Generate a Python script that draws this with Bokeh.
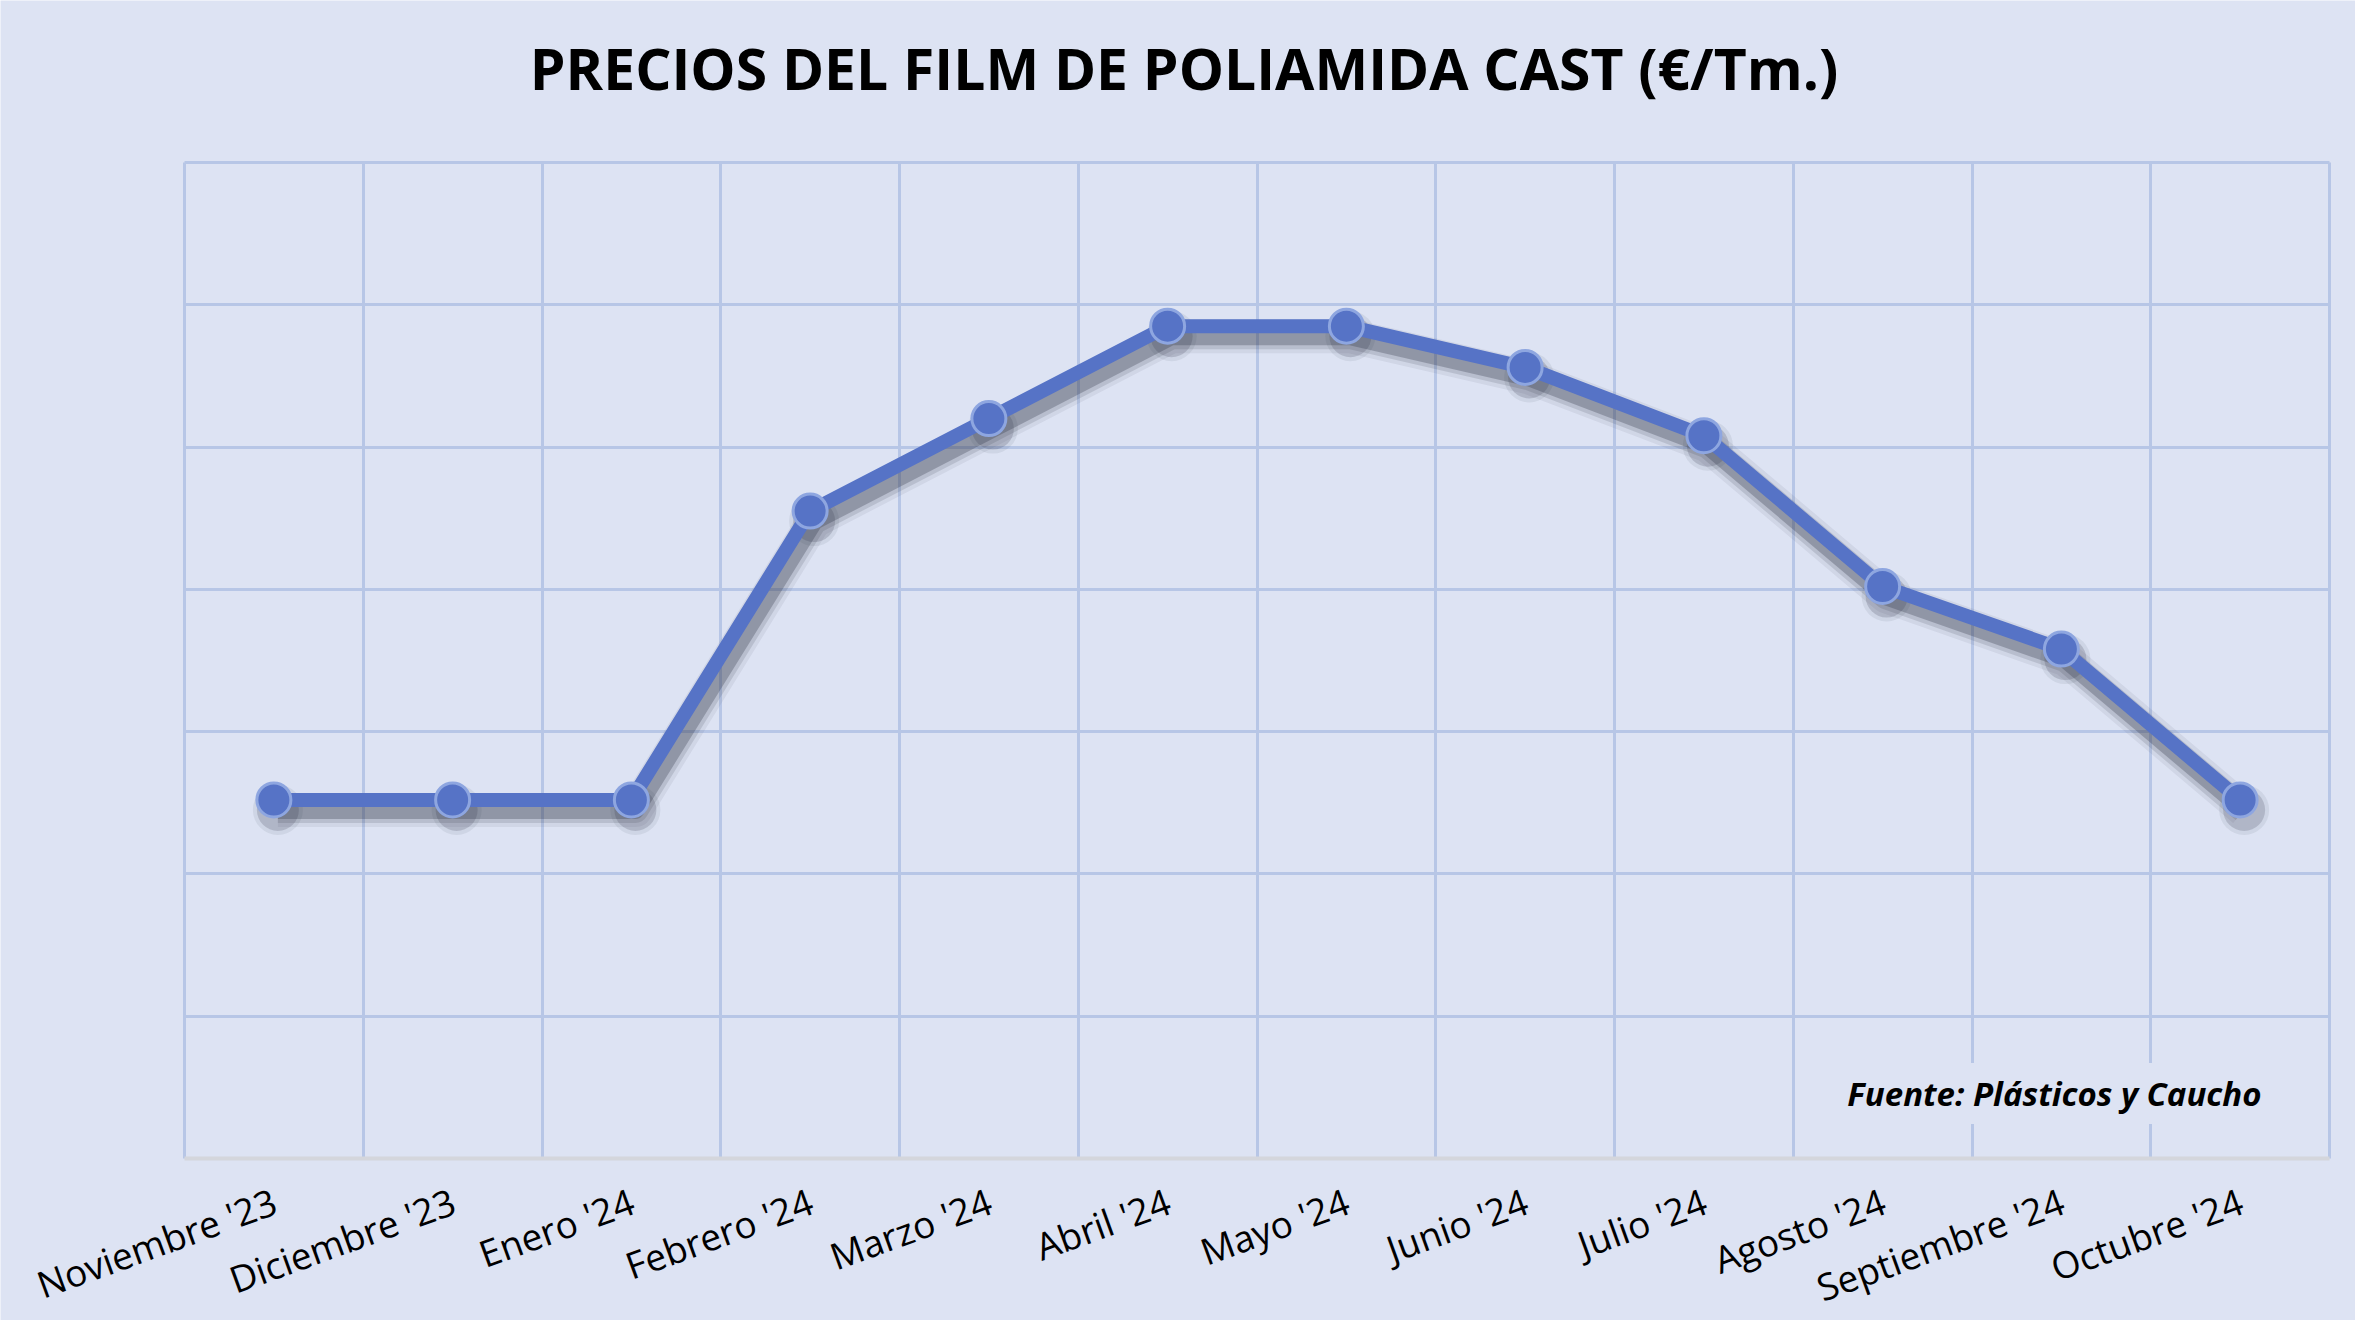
from bokeh.plotting import figure
from bokeh.models import FixedTicker, Label, ColumnDataSource
from bokeh.core.properties import value
from bokeh.embed import file_html
from bokeh.resources import INLINE
import math

# ---- data ----
months = ["Noviembre '23", "Diciembre '23", "Enero '24", "Febrero '24", "Marzo '24",
          "Abril '24", "Mayo '24", "Junio '24", "Julio '24", "Agosto '24",
          "Septiembre '24", "Octubre '24"]
prices = [3252, 3252, 3252, 3455, 3520, 3585, 3585, 3556, 3508, 3402, 3358, 3252]
y_ticks = [3000, 3100, 3200, 3300, 3400, 3500, 3600, 3700]
title = "PRECIOS DEL FILM DE POLIAMIDA CAST (€/Tm.)"
source_note = "Fuente: Plásticos y Caucho"

BG = "#DDE3F3"
GRID = "#B7C6E6"
LINE = "#5673C6"

# ---- page geometry (pixels) ----
W, H = 2355, 1320
PL, PR, PT, PB = 184, 2329, 162, 1158          # plot-area box inside the figure
n = len(months)
ux = (PR - PL) / n                               # px per x unit
uy = (PB - PT) / (y_ticks[-1] - y_ticks[0])      # px per y unit
x_range = (0 - PL / ux, n + (W - PR) / ux)
y_range = (y_ticks[0] - (H - PB) / uy, y_ticks[-1] + PT / uy)

xs = [i + 0.5 for i in range(n)]
src = ColumnDataSource(dict(x=xs, y=prices))
shadow = ColumnDataSource(dict(x=[v + 4 / ux for v in xs], y=[v - 10 / uy for v in prices]))
lab_src = ColumnDataSource(dict(x=[v - 8 / ux for v in xs],
                                y=[y_ticks[0] - 17 / uy] * n, text=months))

p = figure(width=W, height=H, output_backend="svg", toolbar_location=None,
           x_range=x_range, y_range=y_range,
           min_border_left=0, min_border_right=0, min_border_top=0, min_border_bottom=0)
p.xaxis.visible = False
p.yaxis.visible = False
p.background_fill_color = BG
p.border_fill_color = BG
p.outline_line_color = None

p.xgrid.ticker = FixedTicker(ticks=list(range(n + 1)))
p.xgrid.cross_bounds = (y_ticks[0], y_ticks[-1])
p.xgrid.grid_line_color = GRID
p.xgrid.grid_line_width = 3
p.ygrid.ticker = FixedTicker(ticks=y_ticks[1:])
p.ygrid.cross_bounds = (0, n)
p.ygrid.grid_line_color = GRID
p.ygrid.grid_line_width = 3

# category axis line
p.segment(x0=[0], x1=[n], y0=[y_ticks[0]], y1=[y_ticks[0]], line_color="#D4D6DC", line_width=4)

# month labels (rotated, ending under each point)
p.text("x", "y", text="text", source=lab_src, angle=math.radians(20),
       text_align="right", text_baseline="top",
       text_font=value("Open Sans"), text_font_size="37px", text_color="black")

# soft shadow
for w, a in [(34, 0.07), (26, 0.14), (18, 0.28)]:
    p.line("x", "y", source=shadow, line_width=w, line_color="#2a2f40", line_alpha=a,
           line_join="round")
for s, a in [(50, 0.08), (42, 0.18)]:
    p.scatter("x", "y", source=shadow, size=s, fill_color="#2a2f40", fill_alpha=a,
              line_color=None)

p.line("x", "y", source=src, line_width=14, line_color=LINE, line_join="round")
p.scatter("x", "y", source=src, size=34, fill_color=LINE, line_color="#8EA6E0",
          line_width=3)

# title
p.add_layout(Label(x=(W / 2 + 6 - PL) / ux, y=y_ticks[-1] + (PT - 67) / uy, text=title,
                   text_align="center", text_baseline="alphabetic",
                   text_font="Open Sans", text_font_style="bold",
                   text_font_size="57px", text_color="black"))

# source note
p.add_layout(Label(x=(2269 - PL) / ux, y=y_ticks[0] + (PB - 1093) / uy, text=source_note,
                   text_align="right", text_baseline="middle", text_font="Open Sans",
                   text_font_style="bold italic", text_font_size="33px",
                   text_color="black", background_fill_color=BG, padding=8))

open("out.html", "w").write(file_html(p, INLINE))
